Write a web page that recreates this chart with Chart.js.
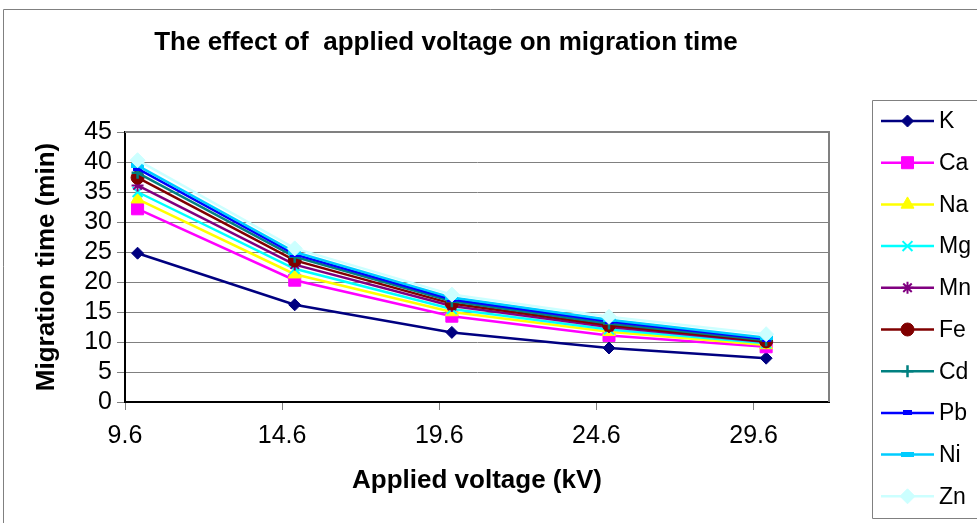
<!DOCTYPE html>
<html>
<head>
<meta charset="utf-8">
<script src="https://cdn.jsdelivr.net/npm/chart.js@4.4.1/dist/chart.umd.min.js"></script>
<style>
  html, body { margin: 0; padding: 0; background: #ffffff; }
  #wrap { width: 977px; height: 523px; position: relative; }
  canvas { display: block; }
</style>
</head>
<body>
<div id="wrap"><canvas id="c" width="977" height="523"></canvas></div>
<script>
// ---- data ----
const voltages = [10, 15, 20, 25, 30];
const xTickValues = [9.6, 14.6, 19.6, 24.6, 29.6];
const yTickValues = [0, 5, 10, 15, 20, 25, 30, 35, 40, 45];
const seriesNames = ['K', 'Ca', 'Na', 'Mg', 'Mn', 'Fe', 'Cd', 'Pb', 'Ni', 'Zn'];
const K  = [24.8, 16.2, 11.6, 9.0, 7.3];
const Ca = [32.2, 20.3, 14.3, 11.1, 9.2];
const Na = [33.8, 21.3, 15.0, 11.7, 9.5];
const Mg = [35.0, 22.2, 15.5, 12.1, 9.8];
const Mn = [36.1, 22.9, 16.0, 12.5, 10.0];
const Fe = [37.4, 23.6, 16.4, 12.8, 10.1];
const Cd = [38.2, 24.2, 16.8, 13.1, 10.3];
const Pb = [38.9, 24.6, 17.1, 13.4, 10.5];
const Ni = [39.4, 25.0, 17.4, 13.7, 10.7];
const Zn = [40.3, 25.6, 17.9, 14.2, 11.3];
const seriesValues = [K, Ca, Na, Mg, Mn, Fe, Cd, Pb, Ni, Zn];

// ---- styles ----
function dashImg(w, h, color) {
  const c = document.createElement('canvas');
  c.width = w; c.height = h;
  const g = c.getContext('2d');
  g.fillStyle = color; g.fillRect(0, 0, w, h);
  return c;
}
const colors = ['#000080', '#FF00FF', '#FFFF00', '#00FFFF', '#800080', '#800000', '#008080', '#0000FF', '#00CCFF', '#CCFFFF'];
const pointStyles = ['rectRot', 'rect', 'triangle', 'crossRot', 'star', 'circle', 'cross',
  dashImg(9, 5, '#0000FF'), dashImg(13, 5, '#00CCFF'), 'rectRot'];
const radii = [6, 8.5, 7.5, 7, 6, 6.5, 6, 5, 5, 7.5];
const markerBorder = [1, 1, 1, 2, 2, 1, 2.5, 1, 1, 1];

const datasets = seriesNames.map((name, i) => ({
  label: name,
  data: voltages.map((v, j) => ({ x: v, y: seriesValues[i][j] })),
  borderColor: colors[i],
  backgroundColor: colors[i],
  pointBackgroundColor: colors[i],
  pointBorderColor: colors[i],
  pointStyle: pointStyles[i],
  pointRadius: radii[i],
  pointHoverRadius: radii[i],
  pointBorderWidth: markerBorder[i],
  borderWidth: 2.5,
  tension: 0,
  fill: false,
  order: seriesNames.length - 1 - i
}));

const PLOT = { left: 125, right: 829, top: 132, bottom: 402 };

const decor = {
  id: 'decor',
  afterDraw(chart) {
    const ctx = chart.ctx;
    ctx.save();
    // outer chart border
    ctx.strokeStyle = '#808080';
    ctx.lineWidth = 1;
    ctx.beginPath();
    ctx.moveTo(3.5, 523); ctx.lineTo(3.5, 9.5); ctx.lineTo(977, 9.5);
    ctx.stroke();
    // plot area top / right border
    const a = chart.chartArea;
    ctx.strokeStyle = '#808080';
    ctx.lineWidth = 2;
    ctx.beginPath();
    ctx.moveTo(a.left, a.top); ctx.lineTo(a.right, a.top); ctx.lineTo(a.right, a.bottom);
    ctx.stroke();
    // title
    ctx.fillStyle = '#000000';
    ctx.font = 'bold 26px "Liberation Sans", Arial, sans-serif';
    ctx.textAlign = 'center';
    ctx.textBaseline = 'middle';
    ctx.fillText('The effect of  applied voltage on migration time', 446, 43);
    // legend box
    ctx.strokeStyle = '#808080';
    ctx.lineWidth = 1;
    ctx.beginPath();
    ctx.moveTo(977, 100.5); ctx.lineTo(872.5, 100.5); ctx.lineTo(872.5, 518.5); ctx.lineTo(977, 518.5);
    ctx.stroke();
    // legend entries
    const x0 = 881, x1 = 934, xm = 907.5;
    chart.data.datasets.forEach((ds, i) => {
      const y = 121 + i * 41.7;
      ctx.strokeStyle = ds.borderColor;
      ctx.lineWidth = 2.5;
      ctx.beginPath(); ctx.moveTo(x0, y); ctx.lineTo(x1, y); ctx.stroke();
      ctx.fillStyle = ds.pointBackgroundColor;
      ctx.strokeStyle = ds.pointBorderColor;
      ctx.lineWidth = ds.pointBorderWidth;
      Chart.helpers.drawPoint(ctx, { pointStyle: ds.pointStyle, radius: ds.pointRadius, rotation: 0, borderWidth: ds.pointBorderWidth }, xm, y);
      ctx.fillStyle = '#000000';
      ctx.font = '23px "Liberation Sans", Arial, sans-serif';
      ctx.textAlign = 'left';
      ctx.textBaseline = 'middle';
      ctx.fillText(ds.label, 939, y + 1);
    });
    ctx.restore();
  }
};

new Chart(document.getElementById('c'), {
  type: 'line',
  data: { datasets },
  options: {
    responsive: false,
    animation: false,
    devicePixelRatio: 1,
    layout: { padding: { left: 0, top: PLOT.top, right: 977 - PLOT.right, bottom: 0 } },
    plugins: { legend: { display: false }, title: { display: false }, tooltip: { enabled: false } },
    scales: {
      x: {
        type: 'linear',
        min: 9.6,
        max: 32,
        afterBuildTicks(scale) { scale.ticks = xTickValues.map(v => ({ value: v })); },
        afterFit(scale) { scale.height = 523 - PLOT.bottom; },
        grid: { drawOnChartArea: false, drawTicks: true, tickLength: 8, tickColor: '#808080', tickWidth: 1 },
        border: { color: '#000000', width: 2 },
        ticks: {
          color: '#000000',
          padding: 11,
          maxRotation: 0,
          autoSkip: false,
          font: { family: '"Liberation Sans", Arial, sans-serif', size: 25 },
          callback: (v) => v.toFixed(1)
        },
        title: {
          display: true,
          text: 'Applied voltage (kV)',
          color: '#000000',
          font: { family: '"Liberation Sans", Arial, sans-serif', size: 26, weight: 'bold' },
          padding: { top: 0, bottom: 27 }
        }
      },
      y: {
        min: 0,
        max: 45,
        afterBuildTicks(scale) { scale.ticks = yTickValues.map(v => ({ value: v })); },
        afterFit(scale) { scale.width = PLOT.left; },
        grid: { color: '#808080', lineWidth: 1, drawTicks: true, tickLength: 8, tickColor: '#808080' },
        border: { color: '#000000', width: 2 },
        ticks: {
          color: '#000000',
          padding: 5,
          autoSkip: false,
          font: { family: '"Liberation Sans", Arial, sans-serif', size: 25 }
        },
        title: {
          display: true,
          text: 'Migration time (min)',
          color: '#000000',
          font: { family: '"Liberation Sans", Arial, sans-serif', size: 26, weight: 'bold' },
          padding: { top: 31, bottom: 0 }
        }
      }
    }
  },
  plugins: [decor]
});
</script>
</body>
</html>
